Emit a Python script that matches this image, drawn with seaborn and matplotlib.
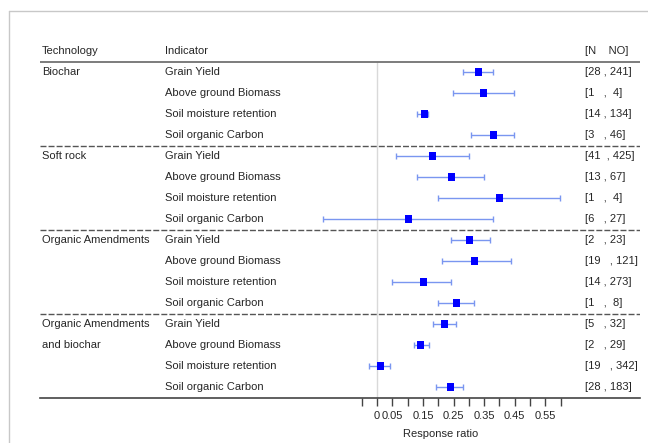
import pandas as pd
import seaborn as sns
import matplotlib.pyplot as plt
from matplotlib.transforms import blended_transform_factory
from matplotlib.lines import Line2D

sns.set_style('white')
plt.rcParams['font.family'] = ['Liberation Sans', 'DejaVu Sans']

technology = ['Biochar', 'Soft rock', 'Organic Amendments', 'Organic Amendments\nand biochar']
indicators = ['Grain Yield', 'Above ground Biomass', 'Soil moisture retention', 'Soil organic Carbon']

estimate = [0.331, 0.349, 0.154, 0.380,
            0.181, 0.242, 0.400, 0.102,
            0.301, 0.320, 0.153, 0.260,
            0.220, 0.142, 0.012, 0.241]
lower = [0.282, 0.249, 0.132, 0.308,
         0.063, 0.132, 0.200, -0.175,
         0.242, 0.211, 0.050, 0.200,
         0.182, 0.122, -0.027, 0.194]
upper = [0.380, 0.449, 0.168, 0.449,
         0.302, 0.351, 0.599, 0.380,
         0.370, 0.439, 0.243, 0.318,
         0.259, 0.170, 0.044, 0.282]
n_labels = ['[28 , 241]', '[1   ,  4]', '[14 , 134]', '[3   , 46]',
            '[41  , 425]', '[13 , 67]', '[1   ,  4]', '[6   , 27]',
            '[2   , 23]', '[19   , 121]', '[14 , 273]', '[1   ,  8]',
            '[5   , 32]', '[2   , 29]', '[19   , 342]', '[28 , 183]']

df = pd.DataFrame({
    'row': range(16),
    'technology': [t for t in technology for _ in indicators],
    'indicator': indicators * len(technology),
    'estimate': estimate,
    'lower': lower,
    'upper': upper,
    'n': n_labels,
})

W, H = 648, 443
fig = plt.figure(figsize=(W / 100, H / 100), dpi=100)
ax = fig.add_axes([40 / W, 1 - 397.5 / H, 600 / W, 357.5 / H])

# x scale: 0 at px 377, 306 px per unit
ax.set_xlim((40 - 377) / 306, (640 - 377) / 306)
ax.set_ylim(15.5, (40 - 72) / 21)

# zero line
ax.vlines(0, -0.5, 15.5, color='#d9d9d9', lw=1, zorder=0)

ax.errorbar(df['estimate'], df['row'],
            xerr=[df['estimate'] - df['lower'], df['upper'] - df['estimate']],
            fmt='none', ecolor='#7a96f0', elinewidth=1, capsize=2.5, capthick=1, zorder=2)
sns.scatterplot(data=df, x='estimate', y='row', marker='s', color='#0000ff',
                s=26, edgecolor='none', ax=ax, zorder=3)

# separators
ax.axhline(-0.5, color='#666666', lw=1.2)
for yy in [3.5, 7.5, 11.5]:
    ax.axhline(yy, color='#555555', lw=1, ls=(0, (4.3, 1.5)))

for s in ['top', 'right', 'left']:
    ax.spines[s].set_visible(False)
ax.spines['bottom'].set_color('#444444')
ax.spines['bottom'].set_linewidth(1.2)

major = [0, 0.05, 0.15, 0.25, 0.35, 0.45, 0.55]
minor = [-0.05, 0.1, 0.2, 0.3, 0.4, 0.5, 0.6]
ax.set_xticks(major)
ax.set_xticklabels(['0', '0.05', '0.15', '0.25', '0.35', '0.45', '0.55'])
ax.set_xticks(minor, minor=True)
ax.tick_params(axis='x', which='both', direction='out', length=6, width=1,
               color='#444444', labelsize=8, pad=4, bottom=True)
ax.set_yticks([])
ax.set_xlabel('')
ax.set_ylabel('')

tr = blended_transform_factory(fig.transFigure, ax.transData)
fs = 8
ax.text(42 / W, -1, 'Technology', transform=tr, fontsize=fs, va='center')
ax.text(165 / W, -1, 'Indicator', transform=tr, fontsize=fs, va='center')
ax.text(585 / W, -1, '[N    NO]', transform=tr, fontsize=fs, va='center')

for i, tech in enumerate(technology):
    for j, part in enumerate(tech.split('\n')):
        ax.text(42 / W, i * 4 + j, part, transform=tr, fontsize=fs, va='center')
for _, r in df.iterrows():
    ax.text(165 / W, r['row'], r['indicator'], transform=tr, fontsize=fs, va='center')
    ax.text(585 / W, r['row'], r['n'], transform=tr, fontsize=fs, va='center')

tr2 = blended_transform_factory(ax.transData, fig.transFigure)
ax.text(0.209, 1 - 434 / H, 'Response ratio', transform=tr2, fontsize=fs,
        ha='center', va='center')

# outer border
fig.add_artist(Line2D([9 / W, 1], [1 - 11 / H, 1 - 11 / H], color='#c8c8c8', lw=1))
fig.add_artist(Line2D([9 / W, 9 / W], [0, 1 - 11 / H], color='#c8c8c8', lw=1))

fig.savefig('out.png', dpi=100)
